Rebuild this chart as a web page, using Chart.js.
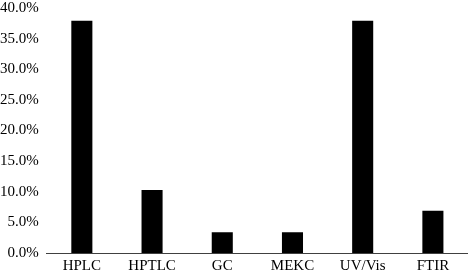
<!DOCTYPE html>
<html>
<head>
<meta charset="utf-8">
<script src="https://cdn.jsdelivr.net/npm/chart.js@4.4.0/dist/chart.umd.min.js"></script>
<style>
    html, body { margin: 0; padding: 0; background: #fff; }
    #wrap { width: 468px; height: 272px; overflow: hidden; }
    #inner { width: 468px; height: 281px; margin-top: -9px; }
</style>
</head>
<body>
<div id="wrap"><div id="inner"><canvas id="chart"></canvas></div></div>
<script>
/* ─── Data ─── */
const methods = ['HPLC', 'HPTLC', 'GC', 'MEKC', 'UV/Vis', 'FTIR'];
const shares  = [37.9, 10.3, 3.4, 3.4, 37.9, 6.9];

const font = { family: '"Liberation Serif", "Times New Roman", serif', size: 15 };

new Chart(document.getElementById('chart'), {
    type: 'bar',
    data: {
        labels: methods,
        datasets: [{
            data: shares,
            backgroundColor: '#000',
            borderWidth: 0,
            barPercentage: 0.3,
            categoryPercentage: 1.0,
        }]
    },
    options: {
        responsive: true,
        maintainAspectRatio: false,
        animation: false,
        layout: { padding: { top: 0, right: 0, bottom: -7, left: -8 } },
        plugins: {
            legend: { display: false },
            tooltip: { enabled: false }
        },
        scales: {
            x: {
                grid: { display: false, drawTicks: false },
                border: { display: true, color: '#404040', width: 1 },
                ticks: { color: '#000', font: font, padding: 4 }
            },
            y: {
                min: 0,
                max: 40,
                grid: { display: false, drawTicks: false },
                border: { display: false },
                ticks: {
                    stepSize: 5,
                    color: '#000',
                    font: font,
                    padding: 8,
                    callback: v => v.toFixed(1) + '%'
                }
            }
        }
    }
});
</script>
</body>
</html>
